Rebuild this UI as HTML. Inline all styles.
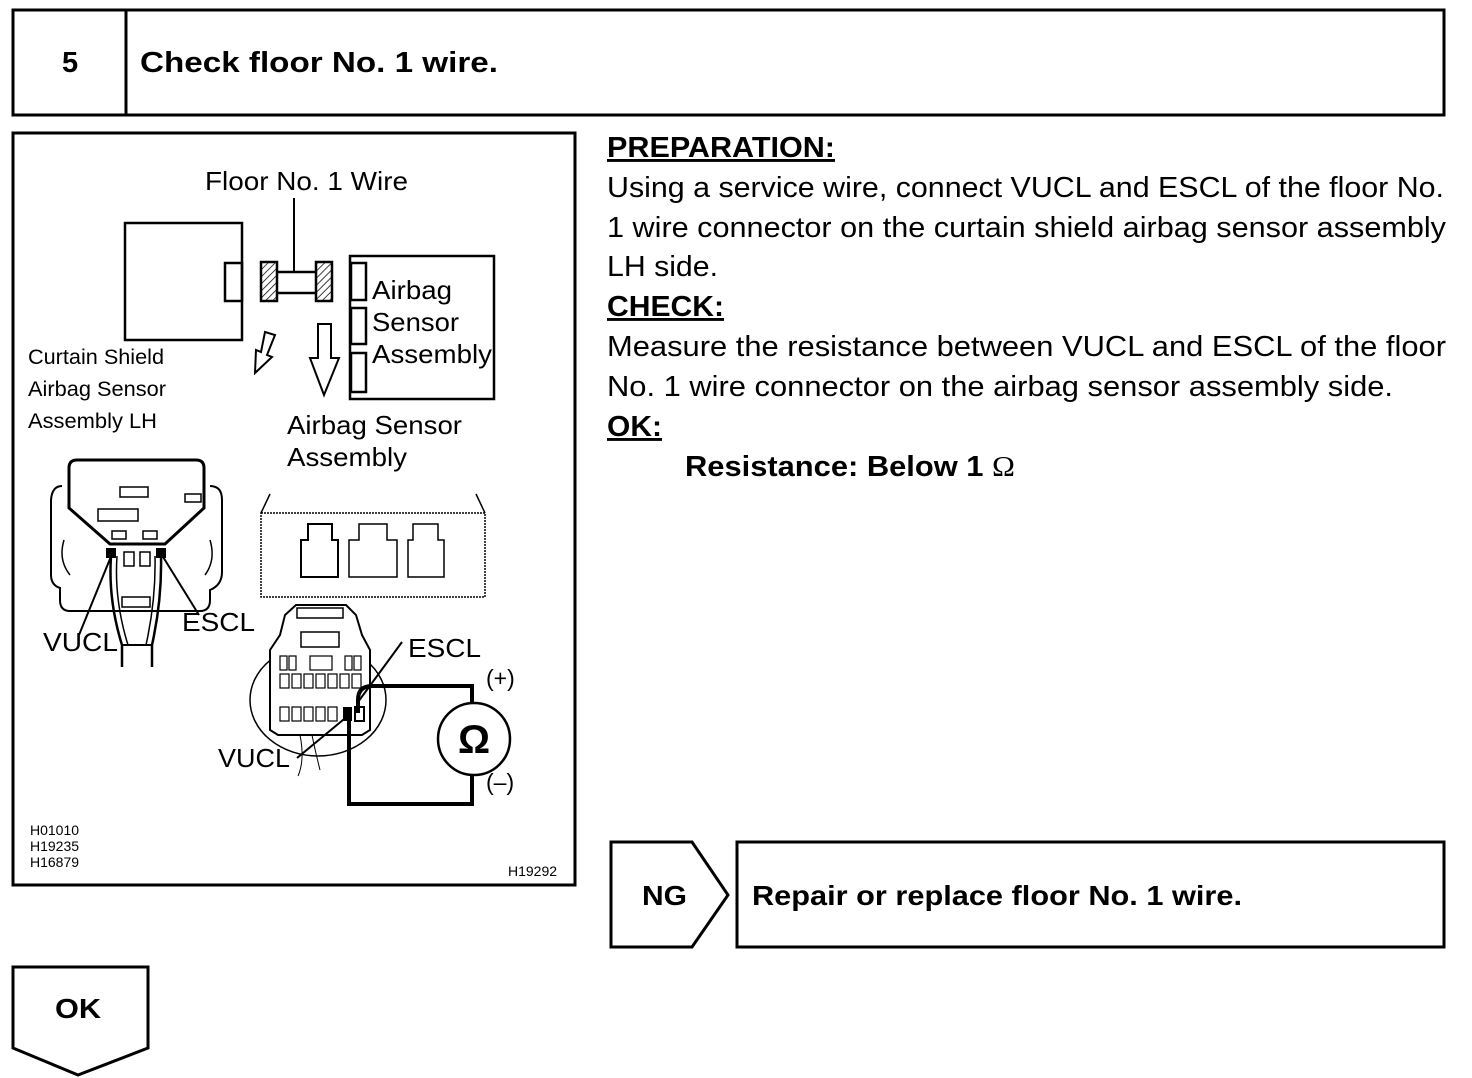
<!DOCTYPE html>
<html><head><meta charset="utf-8"><style>
html,body{margin:0;padding:0;background:#fff;}
body{width:1472px;height:1078px;overflow:hidden;}
svg{display:block;font-family:"Liberation Sans",Arial,sans-serif;}
</style></head><body>
<svg width="1472" height="1078" viewBox="0 0 1472 1078" xmlns="http://www.w3.org/2000/svg">
<defs>
<pattern id="h" width="5" height="5" patternUnits="userSpaceOnUse" patternTransform="rotate(45)"><line x1="0" y1="0" x2="0" y2="5" stroke="#000" stroke-width="1.5"/></pattern>
</defs>
<g fill="none" stroke="#000" stroke-width="3">
<rect x="13" y="10" width="1431" height="105"/>
<line x1="126" y1="10" x2="126" y2="115"/>
<rect x="13" y="133" width="562" height="752"/>
<polygon points="611,842 692,842 728,895 692,947 611,947"/>
<rect x="737" y="842" width="707" height="105"/>
<polygon points="13,967 148,967 148,1048 78,1075 13,1048"/>
</g>
<g font-weight="bold" font-size="29" lengthAdjust="spacingAndGlyphs">
<text x="62" y="72">5</text>
<text x="140" y="72" textLength="358" lengthAdjust="spacingAndGlyphs">Check floor No. 1 wire.</text>
<text x="642" y="905" font-size="28" textLength="45" lengthAdjust="spacingAndGlyphs">NG</text>
<text x="752" y="905" font-size="28" textLength="490" lengthAdjust="spacingAndGlyphs">Repair or replace floor No. 1 wire.</text>
<text x="55" y="1018" font-size="28" textLength="46" lengthAdjust="spacingAndGlyphs">OK</text>
</g>
<g font-size="29">
<text x="607" y="157" font-weight="bold" text-decoration="underline" textLength="228" lengthAdjust="spacingAndGlyphs">PREPARATION:</text>
<text x="607" y="197" textLength="837" lengthAdjust="spacingAndGlyphs">Using a service wire, connect VUCL and ESCL of the floor No.</text>
<text x="607" y="237" textLength="839" lengthAdjust="spacingAndGlyphs">1 wire connector on the curtain shield airbag sensor assembly</text>
<text x="607" y="276" textLength="111" lengthAdjust="spacingAndGlyphs">LH side.</text>
<text x="607" y="316" font-weight="bold" text-decoration="underline" textLength="117" lengthAdjust="spacingAndGlyphs">CHECK:</text>
<text x="607" y="356" textLength="839" lengthAdjust="spacingAndGlyphs">Measure the resistance between VUCL and ESCL of the floor</text>
<text x="607" y="396" textLength="786" lengthAdjust="spacingAndGlyphs">No. 1 wire connector on the airbag sensor assembly side.</text>
<text x="607" y="436" font-weight="bold" text-decoration="underline" textLength="55" lengthAdjust="spacingAndGlyphs">OK:</text>
<text x="685" y="476" font-weight="bold" textLength="330" lengthAdjust="spacingAndGlyphs">Resistance: Below 1 <tspan font-family="Liberation Serif,serif" font-weight="normal">Ω</tspan></text>
</g>
<!-- diagram -->
<g fill="none" stroke="#000" stroke-width="2.5">
<rect x="125" y="223" width="117" height="117"/>
<rect x="225" y="263" width="17" height="38"/>
<rect x="261" y="262" width="16" height="39" fill="url(#h)"/>
<rect x="316" y="262" width="16" height="39" fill="url(#h)"/>
<line x1="277" y1="272" x2="316" y2="272"/>
<line x1="277" y1="293" x2="316" y2="293"/>
<line x1="294" y1="198" x2="294" y2="272" stroke-width="2"/>
<rect x="350" y="256" width="144" height="143"/>
<rect x="351" y="263" width="15" height="37"/>
<rect x="351" y="308" width="15" height="36"/>
<rect x="351" y="353" width="15" height="39"/>
<polygon points="265,332 275,335 267,355 272,357 255,373 256,350 261,352" stroke-width="2"/>
<polygon points="318,324 331,324 331,358 339,358 324,395 310,358 318,358" stroke-width="2"/>
</g>
<g font-size="26">
<text x="205" y="190" textLength="203" lengthAdjust="spacingAndGlyphs">Floor No. 1 Wire</text>
<text x="372" y="299" textLength="80" lengthAdjust="spacingAndGlyphs">Airbag</text>
<text x="372" y="331" textLength="87" lengthAdjust="spacingAndGlyphs">Sensor</text>
<text x="372" y="363" textLength="120" lengthAdjust="spacingAndGlyphs">Assembly</text>
<text x="287" y="434" textLength="175" lengthAdjust="spacingAndGlyphs">Airbag Sensor</text>
<text x="287" y="466" textLength="120" lengthAdjust="spacingAndGlyphs">Assembly</text>
</g>
<g font-size="21">
<text x="28" y="364" textLength="136" lengthAdjust="spacingAndGlyphs">Curtain Shield</text>
<text x="28" y="396" textLength="138" lengthAdjust="spacingAndGlyphs">Airbag Sensor</text>
<text x="28" y="428" textLength="129" lengthAdjust="spacingAndGlyphs">Assembly LH</text>
</g>
<!-- left connector -->
<g fill="none" stroke="#000">
<path d="M62,486 Q52,486 51,500 L51,575 Q51,585 60,588 L60,600 Q60,611 70,611 L200,611 Q210,611 210,600 L210,590 Q222,585 222,572 L222,500 Q222,486 210,486" stroke-width="2"/>
<path d="M69,508 L69,468 Q69,460 77,460 L196,460 Q204,460 204,468 L204,508 L165,544 L110,544 Z" stroke-width="3"/>
<rect x="98" y="509" width="40" height="12" stroke-width="1.5"/>
<rect x="120" y="487" width="28" height="10" stroke-width="1.5"/>
<rect x="185" y="494" width="16" height="8" stroke-width="1.5"/>
<rect x="112" y="531" width="14" height="8" stroke-width="1.5"/>
<rect x="143" y="531" width="14" height="8" stroke-width="1.5"/>
<rect x="124" y="552" width="10" height="14" stroke-width="1.5"/>
<rect x="140" y="552" width="10" height="14" stroke-width="1.5"/>
<rect x="122" y="597" width="28" height="10" stroke-width="1.5"/>
<path d="M64,540 Q58,560 70,575 M210,540 Q216,560 205,575" stroke-width="1.5"/>
<path d="M111,556 Q108,600 122,645 L122,667 M161,556 Q162,600 152,645 L152,667" stroke-width="2.5"/>
<path d="M117,556 Q114,600 128,645 M155,556 Q156,600 146,645" stroke-width="1.5"/>
<line x1="122" y1="645" x2="152" y2="645" stroke-width="2"/>
<line x1="79" y1="635" x2="112" y2="554" stroke-width="2"/>
<line x1="199" y1="615" x2="160" y2="552" stroke-width="2"/>
</g>
<rect x="106" y="548" width="10" height="10" fill="#000"/>
<rect x="156" y="548" width="10" height="10" fill="#000"/>
<g font-size="26">
<text x="43" y="651" textLength="75" lengthAdjust="spacingAndGlyphs">VUCL</text>
<text x="182" y="631" textLength="73" lengthAdjust="spacingAndGlyphs">ESCL</text>
<text x="408" y="657" textLength="73" lengthAdjust="spacingAndGlyphs">ESCL</text>
<text x="218" y="767" textLength="72" lengthAdjust="spacingAndGlyphs">VUCL</text>
<text x="486" y="686" font-size="23">(+)</text>
<text x="486" y="790" font-size="23">(–)</text>
</g>
<!-- sensor housing -->
<g fill="none" stroke="#000" stroke-width="1.5">
<rect x="261" y="513" width="224" height="84" stroke-dasharray="2 1"/>
<line x1="270" y1="494" x2="261" y2="513"/>
<line x1="476" y1="494" x2="485" y2="513"/>
<path d="M301,577 L301,540 L308,540 L308,524 L332,524 L332,540 L338,540 L338,577 Z" stroke-width="2"/>
<path d="M349,577 L349,540 L359,540 L359,524 L387,524 L387,540 L397,540 L397,577 Z"/>
<path d="M408,577 L408,540 L413,540 L413,524 L438,524 L438,540 L444,540 L444,577 Z"/>
</g>
<!-- lower connector -->
<g fill="none" stroke="#000" stroke-width="1.5">
<ellipse cx="318" cy="700" rx="68" ry="56"/>
<path d="M270,730 L270,650 L280,635 L285,615 L296,605 L346,605 L356,615 L362,635 L370,650 L370,730 L362,735 L278,735 Z" fill="#fff" stroke-width="2"/>
<rect x="301" y="632" width="38" height="15"/>
<rect x="297" y="608" width="46" height="10"/>
<g stroke-width="1.2">
<rect x="280" y="656" width="7" height="14"/><rect x="289" y="656" width="7" height="14"/>
<rect x="310" y="656" width="22" height="14"/>
<rect x="345" y="656" width="7" height="14"/><rect x="354" y="656" width="7" height="14"/>
<rect x="280" y="674" width="9" height="14"/><rect x="292" y="674" width="9" height="14"/><rect x="304" y="674" width="9" height="14"/><rect x="316" y="674" width="9" height="14"/><rect x="328" y="674" width="9" height="14"/><rect x="340" y="674" width="9" height="14"/><rect x="352" y="674" width="9" height="14"/>
<rect x="280" y="707" width="9" height="14"/><rect x="292" y="707" width="9" height="14"/><rect x="304" y="707" width="9" height="14"/><rect x="316" y="707" width="9" height="14"/><rect x="328" y="707" width="9" height="14"/>
</g>
<path d="M300,735 Q305,760 298,776 M312,735 Q315,750 320,770" stroke-width="1"/>
</g>
<rect x="343" y="707" width="9" height="14" fill="#000"/>
<rect x="355" y="707" width="9" height="14" fill="none" stroke="#000" stroke-width="2"/>
<g fill="none" stroke="#000" stroke-width="4">
<path d="M358,713 L358,700 Q358,686 372,686 L472,686 L472,702"/>
<path d="M472,776 L472,804 L349,804 L349,715"/>
</g>
<circle cx="474" cy="739" r="36" fill="none" stroke="#000" stroke-width="2.5"/>
<text x="474" y="753" font-size="40" font-weight="bold" text-anchor="middle">Ω</text>
<g stroke="#000" stroke-width="2">
<line x1="402" y1="642" x2="358" y2="702"/>
<line x1="297" y1="758" x2="349" y2="715"/>
</g>
<g font-size="14">
<text x="30" y="835">H01010</text>
<text x="30" y="851">H19235</text>
<text x="30" y="867">H16879</text>
<text x="508" y="876">H19292</text>
</g>
</svg>
</body></html>
